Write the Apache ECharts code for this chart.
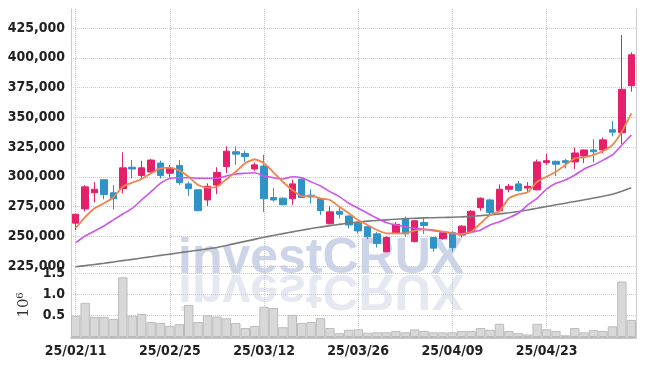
<!DOCTYPE html>
<html><head><meta charset="utf-8">
<script src="https://cdn.jsdelivr.net/npm/echarts@6/dist/echarts.min.js"></script>
<style>html,body{margin:0;padding:0;background:#fff}#c{width:645px;height:366px}</style>
</head><body><div id="c"></div>
<script>
const dates = ['25/02/11','25/02/12','25/02/13','25/02/14','25/02/17','25/02/18','25/02/19','25/02/20','25/02/21','25/02/24',
'25/02/25','25/02/26','25/02/27','25/02/28','25/03/04','25/03/05','25/03/06','25/03/07','25/03/10','25/03/11',
'25/03/12','25/03/13','25/03/14','25/03/17','25/03/18','25/03/19','25/03/20','25/03/21','25/03/24','25/03/25',
'25/03/26','25/03/27','25/03/28','25/03/31','25/04/01','25/04/02','25/04/03','25/04/04','25/04/07','25/04/08',
'25/04/09','25/04/10','25/04/11','25/04/14','25/04/15','25/04/16','25/04/17','25/04/18','25/04/21','25/04/22',
'25/04/23','25/04/24','25/04/25','25/04/28','25/04/29','25/04/30','25/05/02','25/05/07','25/05/08','25/05/09'];

const opens  = [261000,273000,286500,297500,286500,290000,308000,301000,304000,311500,
303000,309500,294000,289000,280500,293000,308500,321000,319500,306500,
309000,282500,282000,281500,298000,284500,281500,260500,271000,267000,
261000,258000,252000,237000,252500,265000,245500,261500,249000,248000,
253000,251000,254000,274000,280500,271500,289500,294000,290500,289000,
312000,313000,313500,312500,317500,322500,322500,339500,337000,376500];
const closes = [268500,291500,289500,285000,281500,307500,306500,307500,314000,301000,
307000,295000,290000,271500,292000,303500,321500,319000,317000,310000,
281500,280500,276500,294000,282500,283000,271500,270500,268500,259500,
254500,249500,244000,249000,260000,252000,263000,259000,240000,253000,
240500,258500,271000,282000,270000,289500,292000,288500,292000,312500,
313500,310500,312000,320000,322500,321000,331000,337500,373500,402500];
const lows   = [255000,271000,278500,281000,272500,286000,298500,298000,303500,298500,
299500,293000,284000,271000,275500,285500,303000,310000,312500,305000,
270500,279000,276000,276500,282000,277500,268000,260000,265000,256500,
252500,247500,240500,236500,252000,249500,245000,252000,237000,247000,
237000,249000,252500,271500,268000,271000,287000,287500,286500,288500,
310000,300500,307000,306500,311500,312000,320000,334000,327500,371500];
const highs  = [269000,293000,295500,297500,293000,320500,314000,313500,315000,313500,
310000,314000,296000,289500,294500,308000,325500,325500,322000,312000,
318500,290500,282500,297500,298500,289500,281500,275500,275000,267500,
261500,258500,253500,250000,262000,266500,263500,266000,249500,254000,
254500,259500,272000,282500,281500,293500,294000,296500,295500,314500,
319500,313500,315000,324500,323000,331500,333000,347000,419000,404500];

const ma5  = [256700,266000,273500,277700,282800,291600,295000,298100,302900,307100,
307600,305100,300000,293000,290800,291600,297900,304200,311300,314700,
311300,303700,295800,288900,283800,284100,281900,280500,274800,269300,
263700,259500,255300,252500,252500,252500,254700,255800,255300,253800,
252500,251900,253800,260900,267900,271000,281900,285200,286900,295800,
300000,304200,309900,315500,316300,318300,321600,326700,337900,353300];
const ma10 = [244600,250200,254400,258600,263700,268700,273500,280500,287500,294500,
298700,299200,299200,298700,298700,298700,300600,302300,302900,303400,
300600,299200,298100,300000,299200,295800,292200,287500,283300,277700,
273500,269300,265100,261400,259500,258000,256700,255800,254700,253800,
252500,251900,253300,255300,259500,262200,265600,269300,276300,281900,
289500,294500,297300,301500,306500,309900,314000,318300,326700,335100];
const ma60 = [224400,225300,226300,227300,228400,229500,230600,231700,232800,233900,
235000,236100,237200,238300,239400,240600,242300,244000,245700,247400,
249100,250700,252200,253700,255100,256500,257700,258900,260000,261000,
261900,262700,263300,263800,264300,264700,265100,265400,265600,265800,
266000,266300,266700,267300,268000,268800,269700,270800,272100,273500,
275000,276400,277800,279200,280600,282100,283600,285300,287800,290800];

// volume in millions of shares
const volumes = [0.50,0.80,0.47,0.47,0.42,1.40,0.50,0.54,0.35,0.33,
0.26,0.30,0.75,0.35,0.51,0.48,0.44,0.33,0.21,0.26,
0.71,0.68,0.23,0.52,0.33,0.35,0.44,0.21,0.09,0.17,
0.18,0.10,0.11,0.11,0.14,0.11,0.18,0.14,0.11,0.11,
0.11,0.14,0.14,0.21,0.17,0.31,0.14,0.09,0.06,0.31,
0.18,0.14,0.04,0.21,0.11,0.16,0.14,0.25,1.30,0.40];

const candleData = dates.map((d, i) => [opens[i], closes[i], lows[i], highs[i]]);

const UP = '#e5206a', DOWN = '#2f93c8';
const LABEL_FONT = "'Liberation Sans Narrow','DejaVu Sans Condensed',sans-serif";
const labelStyle = {color: '#222', fontSize: 14, fontWeight: 'bold', fontFamily: LABEL_FONT};
const dotted = {color: '#c6cad8', type: 'dotted', width: 1};

const chart = echarts.init(document.getElementById('c'), null, {renderer: 'canvas'});
chart.setOption({
  animation: false,
  backgroundColor: '#fff',
  grid: [
    {left: 71, right: 9, top: 9, bottom: 28},
    {left: 71, right: 9, top: 28, height: 238},
    {left: 71, right: 9, top: 273, height: 64}
  ],
  xAxis: [
    {gridIndex: 0, type: 'category', data: dates, position: 'bottom', boundaryGap: true,
     axisLine: {show: false}, axisTick: {show: false},
     axisLabel: Object.assign({interval: 9, margin: 6}, labelStyle),
     splitLine: {show: true, interval: 9, alignWithLabel: true, lineStyle: dotted}},
    {gridIndex: 0, type: 'category', data: dates, position: 'top',
     axisLine: {show: true, lineStyle: {color: '#cccccc'}}, axisTick: {show: false},
     axisLabel: {show: false}, splitLine: {show: false}},
    {gridIndex: 1, type: 'category', data: dates, show: false},
    {gridIndex: 2, type: 'category', data: dates, position: 'top',
     axisLine: {show: true, lineStyle: {color: '#bbbbbb'}}, axisTick: {show: false},
     axisLabel: {show: false}, splitLine: {show: false}}
  ],
  yAxis: [
    {gridIndex: 0, type: 'value', min: 0, max: 1, position: 'left',
     axisLine: {show: true, lineStyle: {color: '#cccccc'}}, axisTick: {show: false},
     axisLabel: {show: false}, splitLine: {show: false}},
    {gridIndex: 0, type: 'value', min: 0, max: 1, position: 'right',
     axisLine: {show: true, lineStyle: {color: '#cccccc'}}, axisTick: {show: false},
     axisLabel: {show: false}, splitLine: {show: false}},
    {gridIndex: 1, type: 'value', min: 225000, max: 425000, interval: 25000,
     axisLine: {show: false}, axisTick: {show: false},
     axisLabel: Object.assign({margin: 6, formatter: v => v.toLocaleString('en-US')}, labelStyle),
     splitLine: {show: true, lineStyle: dotted}},
    {gridIndex: 2, type: 'value', min: 0, max: 1.5, interval: 0.5,
     axisLine: {show: false}, axisTick: {show: false},
     axisLabel: Object.assign({margin: 6, showMinLabel: false, formatter: v => v.toFixed(1)}, labelStyle),
     splitLine: {show: true, lineStyle: dotted},
     name: '10\u2076', nameLocation: 'middle', nameRotate: 90, nameGap: 32,
     nameTextStyle: {color: '#333', fontSize: 15, fontFamily: 'DejaVu Serif'}}
  ],
  graphic: [
    {type: 'text', x: 178, y: 264, scaleY: -1, z: -10, silent: true,
     style: {text: 'investCRUX', font: 'bold 50px "Liberation Sans", Arial, sans-serif',
             fill: '#e5e8f0', verticalAlign: 'bottom'}},
    {type: 'text', x: 178, y: 284, z: -10, silent: true,
     style: {text: 'investCRUX', font: 'bold 50px "Liberation Sans", Arial, sans-serif',
             fill: '#cdd4e7', verticalAlign: 'bottom'}}
  ],
  series: [
    {type: 'bar', xAxisIndex: 3, yAxisIndex: 3, data: volumes, barWidth: '100%',
     itemStyle: {color: '#d8d8d8', borderColor: '#bcbcbc', borderWidth: 1}},
    {type: 'candlestick', xAxisIndex: 2, yAxisIndex: 2, data: candleData, barWidth: 7,
     itemStyle: {color: UP, color0: DOWN, borderColor: UP, borderColor0: DOWN, borderWidth: 1}},
    {type: 'line', name: 'MA60', xAxisIndex: 2, yAxisIndex: 2, data: ma60, symbol: 'none', clip: false,
     smooth: 0.2, lineStyle: {color: '#7a7a7a', width: 1.6}, z: 3},
    {type: 'line', name: 'MA10', xAxisIndex: 2, yAxisIndex: 2, data: ma10, symbol: 'none', clip: false,
     smooth: 0.2, lineStyle: {color: '#cc55ee', width: 1.6}, z: 3},
    {type: 'line', name: 'MA5', xAxisIndex: 2, yAxisIndex: 2, data: ma5, symbol: 'none', clip: false,
     smooth: 0.2, lineStyle: {color: '#f0844c', width: 1.8}, z: 3}
  ]
});
</script>
</body></html>
